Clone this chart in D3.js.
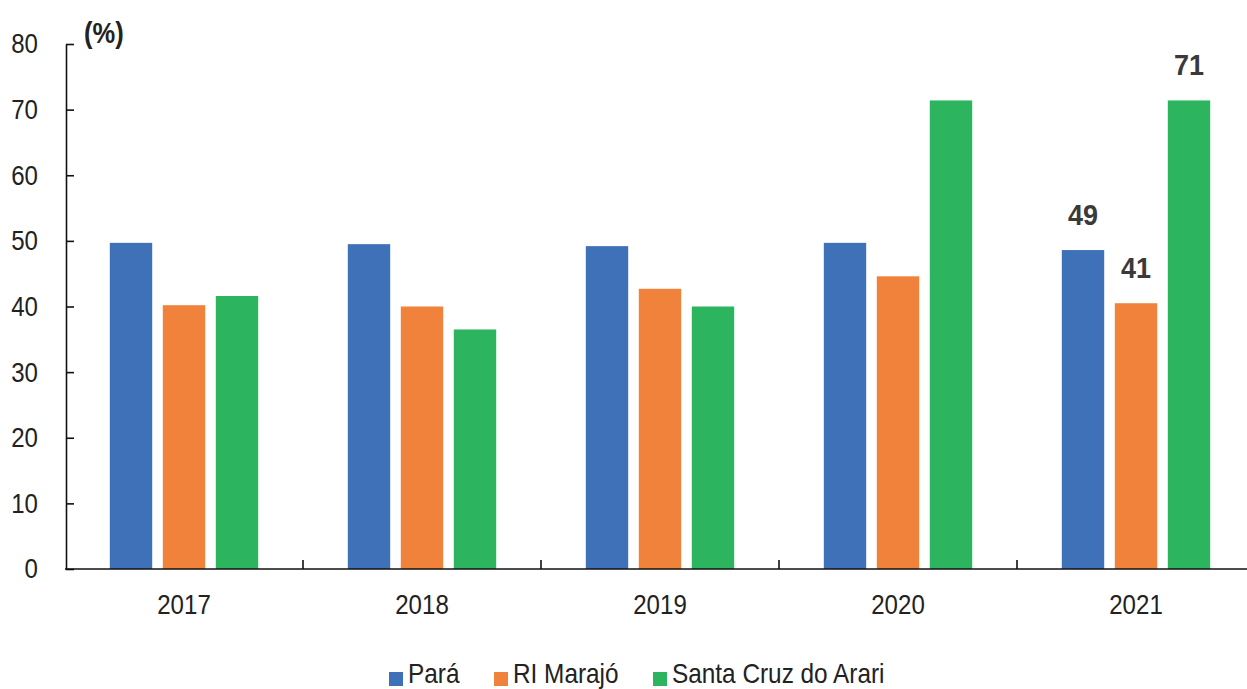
<!DOCTYPE html>
<html>
<head>
<meta charset="utf-8">
<script src="https://cdnjs.cloudflare.com/ajax/libs/d3/7.8.5/d3.min.js"></script>
<style>
  body { margin: 0; background: #fff; overflow: hidden; }
  svg text { font-family: "Liberation Sans", Arial, sans-serif; transform-box: fill-box; }
  /* narrow look of the original font */
  .narrow-r { transform: scaleX(0.86); transform-origin: right center; }
  .narrow-c { transform: scaleX(0.86); transform-origin: center center; }
  .narrow-l { transform: scaleX(0.87); transform-origin: left center; }
  .bold-c { transform: scaleX(0.9); transform-origin: center center; }
</style>
</head>
<body>
<div class="chart"></div>
<script>
// Data
var years = ["2017", "2018", "2019", "2020", "2021"];
var series = ["Pará", "RI Marajó", "Santa Cruz do Arari"];
var para = [49.7, 49.5, 49.2, 49.7, 48.6];
var marajo = [40.2, 40.0, 42.7, 44.6, 40.5];
var santaCruz = [41.6, 36.5, 40.0, 71.4, 71.4];
var yTicks = [0, 10, 20, 30, 40, 50, 60, 70, 80];
// labels shown only on the last year
var labels2021 = ["49", "41", "71"];

var colors = ["#3e71b8", "#f0823c", "#2cb45e"];
var values = [para, marajo, santaCruz];

var width = 1247, height = 689;

var svg = d3.select(".chart")
  .append("svg")
  .attr("width", width)
  .attr("height", height);

var x0 = d3.scaleBand()
  .domain(years)
  .range([65, 1255]);

var x1 = d3.scaleBand()
  .domain(series)
  .range([0, 159])
  .paddingInner(0.2)
  .paddingOuter(0.1);

var y = d3.scaleLinear()
  .domain([0, 80])
  .range([569, 44]);

// bars
var rows = [];
years.forEach(function(yr, i) {
  series.forEach(function(s, j) {
    rows.push({ year: yr, series: s, value: values[j][i], color: colors[j], idx: j });
  });
});

var groupOffset = (x0.bandwidth() - 159) / 2;

svg.append("g")
  .selectAll("rect")
  .data(rows)
  .enter()
  .append("rect")
    .attr("x", function(d) { return x0(d.year) + groupOffset + x1(d.series); })
    .attr("y", function(d) { return y(d.value); })
    .attr("width", x1.bandwidth())
    .attr("height", function(d) { return y(0) - y(d.value); })
    .attr("fill", function(d) { return d.color; });

// value labels for 2021
var last = rows.filter(function(d) { return d.year == "2021"; });
svg.append("g")
  .selectAll("text")
  .data(last)
  .enter()
  .append("text")
    .attr("class", "bold-c")
    .attr("x", function(d) { return x0(d.year) + groupOffset + x1(d.series) + x1.bandwidth() / 2; })
    .attr("y", function(d) { return y(d.value) - 25; })
    .attr("text-anchor", "middle")
    .attr("font-size", 30)
    .attr("font-weight", "bold")
    .attr("fill", "#3a3a3a")
    .text(function(d) { return labels2021[d.idx]; });

// y axis
var yAxis = svg.append("g")
  .attr("transform", "translate(66,0)")
  .call(d3.axisLeft(y)
    .tickValues(yTicks)
    .tickSizeInner(-8)
    .tickSizeOuter(0)
    .tickPadding(28));
yAxis.select(".domain").attr("stroke", "#111").attr("stroke-width", 1.6);
yAxis.selectAll(".tick line").attr("stroke", "#111").attr("stroke-width", 1.6);
yAxis.selectAll(".tick text")
  .attr("class", "narrow-r")
  .attr("font-size", 28)
  .attr("fill", "#222")
  .attr("font-family", null);

// x axis
var xAxis = svg.append("g")
  .attr("transform", "translate(0,569)")
  .call(d3.axisBottom(x0).tickSize(0).tickPadding(25));
xAxis.select(".domain").remove();
xAxis.selectAll(".tick text")
  .attr("class", "narrow-c")
  .attr("font-size", 28)
  .attr("fill", "#222")
  .attr("font-family", null);

svg.append("line")
  .attr("x1", 65).attr("x2", width)
  .attr("y1", y(0)).attr("y2", y(0))
  .attr("stroke", "#111").attr("stroke-width", 1.6);

// separator ticks between years
svg.append("g")
  .selectAll("line")
  .data(years.slice(0, 4))
  .enter()
  .append("line")
    .attr("x1", function(d) { return x0(d) + x0.bandwidth(); })
    .attr("x2", function(d) { return x0(d) + x0.bandwidth(); })
    .attr("y1", y(0))
    .attr("y2", y(0) - 9)
    .attr("stroke", "#111").attr("stroke-width", 1.6);

// unit label
svg.append("text")
  .attr("x", 84)
  .attr("y", 43)
  .attr("font-size", 29)
  .attr("font-weight", "bold")
  .attr("fill", "#222")
  .style("transform", "scaleX(0.88)")
  .style("transform-origin", "left center")
  .text("(%)");

// legend
var legendX = [389, 494, 653];
var legend = svg.append("g")
  .selectAll("g")
  .data(series)
  .enter()
  .append("g")
    .attr("transform", function(d, i) { return "translate(" + legendX[i] + ",672)"; });

legend.append("rect")
  .attr("width", 14).attr("height", 14)
  .attr("fill", function(d, i) { return colors[i]; });

legend.append("text")
  .attr("class", "narrow-l")
  .attr("x", 19)
  .attr("y", 11)
  .attr("font-size", 28)
  .attr("fill", "#222")
  .text(function(d) { return d; });
</script>
</body>
</html>
